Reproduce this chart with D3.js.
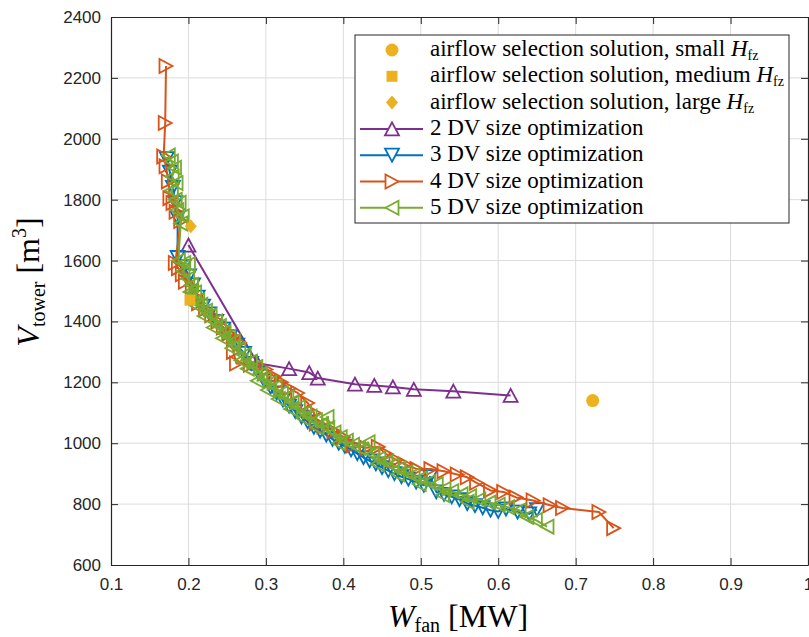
<!DOCTYPE html>
<html>
<head>
<meta charset="utf-8">
<script src="https://cdn.jsdelivr.net/npm/d3@7"></script>
<style>
  body { margin: 0; background: #fff; }
  svg { display: block; }
</style>
</head>
<body>
<svg id="chart" width="809" height="637"></svg>
<script>
// Axis ticks
const xTicks = [0.1, 0.2, 0.3, 0.4, 0.5, 0.6, 0.7, 0.8, 0.9, 1.0];
const xTickLabels = ["0.1", "0.2", "0.3", "0.4", "0.5", "0.6", "0.7", "0.8", "0.9", "1"];
const yTicks = [600, 800, 1000, 1200, 1400, 1600, 1800, 2000, 2200, 2400];
const yTickLabels = ["600", "800", "1000", "1200", "1400", "1600", "1800", "2000", "2200", "2400"];

// Airflow selection solutions [W_fan (MW), V_tower (m^3)]
const airflowSmall = [[0.722, 1140]];
const airflowMedium = [[0.202, 1470]];
const airflowLarge = [[0.203, 1713]];

// Size optimization Pareto fronts [W_fan (MW), V_tower (m^3)]
const dv2 = [
  [0.200, 1651], [0.289, 1263], [0.330, 1245], [0.356, 1232], [0.367, 1214],
  [0.415, 1194], [0.440, 1190], [0.464, 1185], [0.491, 1177], [0.542, 1171],
  [0.616, 1157]
];

const dv3 = [
  [0.172, 1935], [0.176, 1890], [0.180, 1840], [0.183, 1790], [0.186, 1740],
  [0.186, 1610], [0.194, 1580], [0.201, 1550], [0.206, 1520], [0.212, 1480],
  [0.219, 1450], [0.227, 1425], [0.236, 1400], [0.245, 1375], [0.254, 1350],
  [0.263, 1322], [0.272, 1295], [0.281, 1262], [0.290, 1232], [0.298, 1205],
  [0.306, 1184], [0.314, 1165], [0.322, 1142], [0.330, 1122], [0.338, 1104],
  [0.346, 1086], [0.354, 1070], [0.362, 1052], [0.370, 1040], [0.378, 1027],
  [0.386, 1013], [0.394, 1000], [0.402, 990], [0.410, 978], [0.418, 966],
  [0.426, 953], [0.434, 942], [0.442, 932], [0.450, 920], [0.458, 910],
  [0.466, 900], [0.475, 890], [0.484, 882], [0.494, 872], [0.504, 862],
  [0.512, 890], [0.520, 840], [0.530, 832], [0.540, 824], [0.550, 815],
  [0.560, 802], [0.570, 795], [0.580, 788], [0.590, 780], [0.600, 776],
  [0.610, 784], [0.625, 774], [0.640, 768], [0.650, 782]
];

const dv4 = [
  [0.171, 2239], [0.170, 2052], [0.168, 1942], [0.171, 1910], [0.174, 1860],
  [0.176, 1805], [0.180, 1789], [0.184, 1760], [0.190, 1730], [0.183, 1592],
  [0.187, 1575], [0.192, 1555], [0.196, 1530], [0.205, 1515], [0.210, 1480],
  [0.213, 1460], [0.222, 1440], [0.230, 1420], [0.238, 1400], [0.245, 1380],
  [0.252, 1360], [0.258, 1350], [0.266, 1330], [0.258, 1300], [0.262, 1262],
  [0.280, 1258], [0.300, 1242], [0.311, 1218], [0.320, 1200], [0.330, 1180],
  [0.341, 1165], [0.354, 1132], [0.362, 1100], [0.365, 1065], [0.375, 1055],
  [0.388, 1040], [0.400, 1020], [0.413, 993], [0.430, 985], [0.445, 988],
  [0.455, 965], [0.468, 945], [0.480, 930], [0.495, 915], [0.513, 915],
  [0.530, 908], [0.547, 897], [0.560, 888], [0.572, 870], [0.590, 845],
  [0.607, 840], [0.623, 822], [0.645, 812], [0.667, 796], [0.683, 787],
  [0.730, 774], [0.749, 721]
];

const dv5 = [
  [0.174, 1945], [0.178, 1925], [0.182, 1905], [0.179, 1875], [0.184, 1855],
  [0.178, 1830], [0.183, 1800], [0.188, 1790], [0.185, 1765], [0.192, 1745],
  [0.190, 1722], [0.187, 1600], [0.194, 1592], [0.200, 1588], [0.193, 1565],
  [0.199, 1540], [0.204, 1520], [0.202, 1497], [0.208, 1495], [0.212, 1470],
  [0.210, 1452], [0.216, 1455], [0.222, 1435], [0.220, 1418], [0.228, 1420],
  [0.235, 1400], [0.232, 1380], [0.240, 1385], [0.246, 1365], [0.244, 1345],
  [0.252, 1350], [0.258, 1335], [0.256, 1312], [0.265, 1310], [0.272, 1290],
  [0.268, 1272], [0.280, 1268], [0.276, 1245], [0.287, 1250], [0.293, 1228],
  [0.289, 1205], [0.298, 1212], [0.305, 1198], [0.302, 1175], [0.312, 1185],
  [0.320, 1165], [0.316, 1145], [0.327, 1150], [0.334, 1135], [0.332, 1112],
  [0.342, 1118], [0.350, 1100], [0.348, 1082], [0.357, 1088], [0.364, 1075],
  [0.366, 1052], [0.372, 1062], [0.380, 1050], [0.379, 1086], [0.388, 1035],
  [0.396, 1020], [0.394, 1000], [0.404, 1008], [0.412, 995], [0.420, 985],
  [0.432, 1003], [0.438, 965], [0.446, 950], [0.444, 932], [0.455, 938],
  [0.463, 928], [0.472, 918], [0.470, 898], [0.481, 905], [0.490, 895],
  [0.500, 885], [0.498, 866], [0.510, 872], [0.520, 865], [0.530, 850],
  [0.528, 830], [0.540, 842], [0.552, 832], [0.563, 826], [0.560, 808],
  [0.575, 815], [0.588, 805], [0.600, 798], [0.612, 790], [0.627, 780],
  [0.637, 758], [0.648, 748], [0.663, 726]
];

const seriesNames = [
  "2 DV size optimization", "3 DV size optimization",
  "4 DV size optimization", "5 DV size optimization"
];

// ---------------------------------------------------------------
const plot = { left: 111, right: 808, top: 17, bottom: 565 };
const axisColor = "#262626";
const colors = {
  purple: "#7E2F8E", blue: "#0072BD", orange: "#D95319",
  green: "#77AC30", yellow: "#EDB120"
};
const serifFont = "'Liberation Serif', 'Times New Roman', serif";
const sansFont = "'Liberation Sans', Arial, Helvetica, sans-serif";

const svg = d3.select("#chart");

const x = d3.scaleLinear().domain([0.1, 1.0]).range([plot.left, plot.right]);
const y = d3.scaleLinear().domain([600, 2400]).range([plot.bottom, plot.top]);

// grid
const grid = svg.append("g").attr("stroke", "#dcdcdc").attr("stroke-width", 1);
grid.selectAll("line.gx").data(xTicks.slice(1, -1)).join("line")
  .attr("x1", d => x(d)).attr("x2", d => x(d))
  .attr("y1", plot.top).attr("y2", plot.bottom);
grid.selectAll("line.gy").data(yTicks.slice(1, -1)).join("line")
  .attr("y1", d => y(d)).attr("y2", d => y(d))
  .attr("x1", plot.left).attr("x2", plot.right);

// marker shapes
const A = 7, B = 6.5;
const shapes = {
  up: `M0,${-B}L${A},${B}L${-A},${B}Z`,
  down: `M0,${B}L${A},${-B}L${-A},${-B}Z`,
  right: `M${B},0L${-B},${-A}L${-B},${A}Z`,
  left: `M${-B},0L${B},${-A}L${B},${A}Z`,
  square: "M-5.5,-5.5H5.5V5.5H-5.5Z",
  diamond: "M0,-7L6,0L0,7L-6,0Z"
};

svg.append("clipPath").attr("id", "plotClip")
  .append("rect").attr("x", plot.left).attr("y", plot.top)
  .attr("width", plot.right - plot.left).attr("height", plot.bottom - plot.top);

const marks = svg.append("g").attr("clip-path", "url(#plotClip)");
const line = d3.line().x(d => x(d[0])).y(d => y(d[1]));

function drawSeries(data, color, shape) {
  const g = marks.append("g");
  g.append("path").datum(data)
    .attr("d", line).attr("fill", "none")
    .attr("stroke", color).attr("stroke-width", 2).attr("stroke-linejoin", "round");
  g.selectAll("path.m").data(data).join("path")
    .attr("class", "m")
    .attr("d", shapes[shape])
    .attr("transform", d => `translate(${x(d[0])},${y(d[1])})`)
    .attr("fill", "none").attr("stroke", color).attr("stroke-width", 1.8);
}

drawSeries(dv2, colors.purple, "up");
drawSeries(dv3, colors.blue, "down");
drawSeries(dv4, colors.orange, "right");
drawSeries(dv5, colors.green, "left");

// airflow selection solutions
marks.selectAll("circle.small").data(airflowSmall).join("circle")
  .attr("cx", d => x(d[0])).attr("cy", d => y(d[1])).attr("r", 6.5)
  .attr("fill", colors.yellow);
marks.selectAll("path.medium").data(airflowMedium).join("path")
  .attr("d", shapes.square)
  .attr("transform", d => `translate(${x(d[0])},${y(d[1])})`)
  .attr("fill", colors.yellow);
marks.selectAll("path.large").data(airflowLarge).join("path")
  .attr("d", shapes.diamond)
  .attr("transform", d => `translate(${x(d[0])},${y(d[1])})`)
  .attr("fill", colors.yellow);

// axes (inward ticks on all four sides)
function styleAxis(g) {
  g.select(".domain").attr("stroke", axisColor).attr("stroke-width", 1.2);
  g.selectAll(".tick line").attr("stroke", axisColor).attr("stroke-width", 1);
  g.selectAll(".tick text").attr("fill", axisColor)
    .attr("font-family", sansFont).attr("font-size", 17);
}

svg.append("g").attr("transform", `translate(0,${plot.bottom})`)
  .call(d3.axisBottom(x).tickValues(xTicks).tickFormat((d, i) => xTickLabels[i])
    .tickSizeInner(-7).tickSizeOuter(0).tickPadding(13))
  .call(styleAxis);
svg.append("g").attr("transform", `translate(${plot.left},0)`)
  .call(d3.axisLeft(y).tickValues(yTicks).tickFormat((d, i) => yTickLabels[i])
    .tickSizeInner(-7).tickSizeOuter(0).tickPadding(10))
  .call(styleAxis);
svg.append("g").attr("transform", `translate(0,${plot.top})`)
  .call(d3.axisTop(x).tickValues(xTicks).tickFormat("").tickSizeInner(-7).tickSizeOuter(0))
  .call(styleAxis);
svg.append("g").attr("transform", `translate(${plot.right},0)`)
  .call(d3.axisRight(y).tickValues(yTicks).tickFormat("").tickSizeInner(-7).tickSizeOuter(0))
  .call(styleAxis);

// axis titles
const xTitle = svg.append("text")
  .attr("x", 458).attr("y", 627).attr("text-anchor", "middle")
  .attr("font-family", serifFont).attr("fill", "#000");
xTitle.append("tspan").attr("font-style", "italic").attr("font-size", 32).text("W");
xTitle.append("tspan").attr("font-size", 20).attr("dy", 5).text("fan");
xTitle.append("tspan").attr("font-size", 32).attr("dy", -5).text(" [MW]");

const yTitle = svg.append("text")
  .attr("transform", "translate(39,282) rotate(-90)").attr("text-anchor", "middle")
  .attr("font-family", serifFont).attr("fill", "#000");
yTitle.append("tspan").attr("font-style", "italic").attr("font-size", 32).text("V");
yTitle.append("tspan").attr("font-size", 20).attr("dy", 6).text("tower");
yTitle.append("tspan").attr("font-size", 32).attr("dy", -6).text(" [m");
yTitle.append("tspan").attr("font-size", 20).attr("dy", -13).text("3");
yTitle.append("tspan").attr("font-size", 32).attr("dy", 13).text("]");

// legend
const legend = svg.append("g");
const lg = { x0: 355, y0: 35, x1: 789, y1: 223, row0: 50, step: 26.3 };
legend.append("rect")
  .attr("x", lg.x0).attr("y", lg.y0).attr("width", lg.x1 - lg.x0).attr("height", lg.y1 - lg.y0)
  .attr("fill", "#fff").attr("stroke", axisColor).attr("stroke-width", 1);

const legendRows = [
  { kind: "circle", color: colors.yellow, label: "airflow selection solution, small ", sub: true },
  { kind: "square", color: colors.yellow, label: "airflow selection solution, medium ", sub: true },
  { kind: "diamond", color: colors.yellow, label: "airflow selection solution, large ", sub: true },
  { kind: "up", color: colors.purple, label: seriesNames[0], line: true },
  { kind: "down", color: colors.blue, label: seriesNames[1], line: true },
  { kind: "right", color: colors.orange, label: seriesNames[2], line: true },
  { kind: "left", color: colors.green, label: seriesNames[3], line: true }
];

legendRows.forEach((r, i) => {
  const cy = lg.row0 + i * lg.step;
  const mx = 392;
  if (r.line) {
    legend.append("line").attr("x1", 360).attr("x2", 423).attr("y1", cy).attr("y2", cy)
      .attr("stroke", r.color).attr("stroke-width", 2);
    legend.append("path").attr("d", shapes[r.kind]).attr("transform", `translate(${mx},${cy})`)
      .attr("fill", "#fff").attr("stroke", r.color).attr("stroke-width", 1.8);
  } else if (r.kind === "circle") {
    legend.append("circle").attr("cx", mx).attr("cy", cy).attr("r", 6.5).attr("fill", r.color);
  } else {
    legend.append("path").attr("d", shapes[r.kind]).attr("transform", `translate(${mx},${cy})`)
      .attr("fill", r.color);
  }
  const t = legend.append("text").attr("x", 430).attr("y", cy + 6)
    .attr("font-family", serifFont).attr("font-size", 23).attr("fill", "#000");
  t.append("tspan").text(r.label);
  if (r.sub) {
    t.append("tspan").attr("font-style", "italic").text("H");
    t.append("tspan").attr("font-size", 14).attr("dy", 4).text("fz");
  }
});
</script>
</body>
</html>
